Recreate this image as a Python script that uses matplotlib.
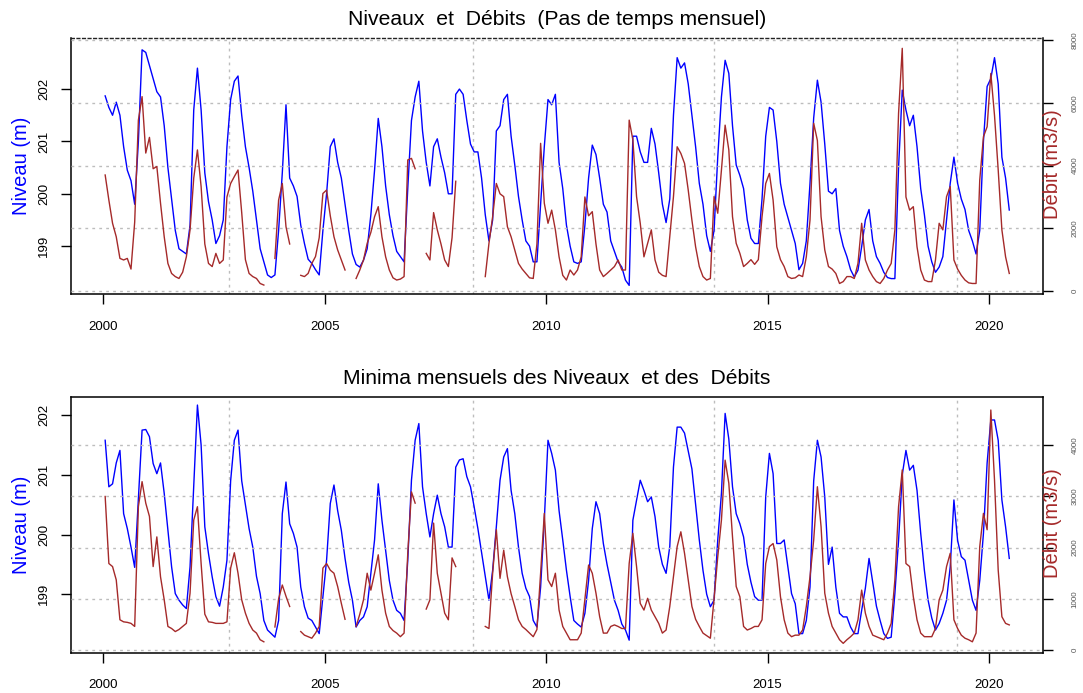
import numpy as np
import matplotlib
matplotlib.use("Agg")
import matplotlib.pyplot as plt

plt.rcParams['font.family'] = ['Liberation Sans', 'DejaVu Sans']

nan = np.nan

# ---- Data: monthly values, Jan 2000 -> Jun 2020 ----
niveau_mensuel = [
    201.87, 201.65, 201.5, 201.75, 201.5, 200.9, 200.45, 200.25, 199.8, 201.0, 202.75, 202.7,
    202.45, 202.2, 201.95, 201.85, 201.3, 200.5, 199.9, 199.3, 198.95, 198.9, 198.85, 199.4,
    201.6, 202.4, 201.6, 200.4, 199.85, 199.5, 199.05, 199.2, 199.5, 200.9, 201.8, 202.15,
    202.25, 201.5, 200.9, 200.5, 200.05, 199.5, 198.95, 198.7, 198.45, 198.4, 198.45, 199.3,
    200.4, 201.7, 200.3, 200.15, 199.95, 199.4, 199.05, 198.75, 198.67, 198.55, 198.45, 199.3,
    200.0, 200.9, 201.05, 200.6, 200.3, 199.8, 199.3, 198.85, 198.65, 198.6, 198.73, 198.95,
    199.6, 200.45, 201.44, 200.9, 200.15, 199.6, 199.2, 198.9, 198.8, 198.7, 200.1, 201.4,
    201.85, 202.15, 201.2, 200.6, 200.15, 200.9, 201.05, 200.7, 200.4, 200.0, 200.0, 201.9,
    202.0, 201.9, 201.4, 200.95, 200.8, 200.8, 200.3, 199.6, 199.1, 199.5, 201.2, 201.3,
    201.8, 201.9, 201.1, 200.55, 199.95, 199.5, 199.1, 199.0, 198.7, 198.7, 199.8, 200.9,
    201.8, 201.7, 201.9, 200.6, 200.1, 199.4, 199.0, 198.7, 198.67, 198.7, 199.4, 200.3,
    200.93, 200.75, 200.3, 199.8, 199.65, 199.1, 198.9, 198.7, 198.6, 198.35, 198.25, 201.1,
    201.1, 200.8, 200.6, 200.6, 201.25, 200.95, 200.4, 199.8, 199.45, 199.9, 201.5, 202.6,
    202.4, 202.5, 202.1, 201.5, 200.9, 200.2, 199.8, 199.2, 198.9, 199.3, 200.7, 201.85,
    202.55, 202.3, 201.3, 200.55, 200.35, 200.1, 199.5, 199.15, 199.05, 199.05, 199.9, 201.1,
    201.65, 201.6, 201.0, 200.2, 199.8, 199.55, 199.3, 199.05, 198.55, 198.67, 199.1, 200.2,
    201.45, 202.17, 201.75, 200.95, 200.05, 200.0, 200.1, 199.3, 199.0, 198.8, 198.55, 198.41,
    198.54, 198.99, 199.5, 199.7, 199.1, 198.8, 198.67, 198.5, 198.4, 198.38, 198.38, 200.5,
    201.98, 201.6, 201.3, 201.5, 200.9, 200.1, 199.6, 199.0, 198.7, 198.5, 198.6, 198.8,
    199.5, 200.2, 200.7, 200.2, 199.9, 199.7, 199.3, 199.1, 198.85, 199.3, 201.0, 202.05,
    202.2, 202.6, 202.1, 200.7, 200.3, 199.69,
]

debit_mensuel = [
    3700, 2900, 2160, 1730, 1040, 990, 1040, 700, 2200, 5450, 6200, 4400,
    4900, 3900, 3970, 2800, 1730, 880, 560, 460, 400, 600, 1090, 1950,
    3600, 4500, 3330, 1500, 880, 780, 1200, 880, 990, 3000, 3430, 3650,
    3860, 2500, 1000, 560, 460, 400, 240, 190, nan, nan, 1040, 2900,
    3430, 2050, 1500, nan, nan, 500, 460, 560, 880, 1100, 1700, 3110,
    3220, 2400, 1730, 1310, 990, 670, nan, nan, 400, 670, 990, 1520,
    1870, 2370, 2690, 1730, 1090, 670, 420, 350, 380, 460, 4180, 4230,
    3900, nan, nan, 1200, 990, 2500, 1950, 1500, 990, 780, 1700, 3500,
    nan, nan, nan, nan, nan, nan, nan, 460, 1520, 2370, 3430, 3100,
    3010, 2050, 1730, 1310, 880, 700, 560, 420, 400, 1500, 4710, 2800,
    2160, 2580, 1950, 1090, 500, 350, 670, 510, 670, 1090, 3000, 2400,
    2530, 1500, 670, 460, 560, 670, 780, 990, 670, 670, 5450, 4820,
    3010, 2160, 1090, 1520, 1950, 990, 600, 500, 460, 1730, 3010, 4600,
    4390, 4070, 3220, 2260, 1410, 780, 460, 350, 400, 3010, 2480, 3860,
    5290, 4500, 2370, 1520, 1200, 780, 880, 1000, 850, 1000, 2370, 3430,
    3750, 2900, 1410, 1000, 780, 460, 400, 420, 510, 460, 1090, 2260,
    5350, 4800, 2370, 1310, 780, 700, 560, 240, 300, 460, 460, 400,
    880, 2160, 990, 670, 460, 300, 240, 400, 670, 880, 1950, 5670,
    7740, 3000, 2580, 2690, 1410, 670, 350, 300, 300, 990, 2160, 1950,
    3010, 3330, 990, 700, 500, 350, 260, 240, 240, 3540, 4920, 5240,
    6940, 5600, 3860, 1950, 1090, 560,
]

niveau_min = [
    201.58, 200.8, 200.85, 201.2, 201.41, 200.35, 200.1, 199.79, 199.45, 200.6, 201.75, 201.76,
    201.64, 201.19, 201.02, 201.2, 200.69, 200.07, 199.46, 199.01, 198.9, 198.82, 198.76, 199.46,
    200.8, 202.17, 201.5, 200.13, 199.68, 199.29, 198.96, 198.8, 199.12, 199.57, 200.9, 201.58,
    201.75, 200.9, 200.5, 200.1, 199.79, 199.3, 199.01, 198.56, 198.4, 198.34, 198.28, 198.56,
    200.35, 200.88, 200.18, 200.02, 199.79, 199.12, 198.79, 198.6, 198.56, 198.45, 198.34, 198.96,
    199.57, 200.52, 200.83, 200.4, 200.07, 199.6, 199.2, 198.9, 198.45, 198.56, 198.62, 198.79,
    199.35, 199.91, 200.85, 200.24, 199.74, 199.23, 198.9, 198.73, 198.68, 198.56, 199.57, 200.91,
    201.58, 201.86, 200.8, 200.35, 199.96, 200.35, 200.66, 200.35, 200.13, 199.79, 199.79, 201.13,
    201.25, 201.27, 200.97, 200.8, 200.46, 200.1, 199.7, 199.3, 198.9, 199.4, 200.13, 200.91,
    201.3, 201.44, 200.74, 200.35, 199.79, 199.35, 199.1, 198.96, 198.56, 198.45, 199.12, 200.24,
    201.58, 201.36, 201.08, 200.4, 199.91, 199.4, 198.96, 198.56, 198.5, 198.45, 198.68, 199.23,
    200.1, 200.55, 200.35, 199.85, 199.5, 199.2, 198.9, 198.73, 198.5, 198.4, 198.23, 200.24,
    200.58, 200.91, 200.74, 200.55, 200.63, 200.3, 199.79, 199.5, 199.35, 199.8, 201.13, 201.8,
    201.8, 201.7, 201.4, 201.1, 200.5, 199.91, 199.4, 199.0, 198.79, 198.9, 199.91, 200.69,
    202.03, 201.6, 200.8, 200.35, 200.18, 199.96, 199.5, 199.2, 198.96, 198.9, 198.9, 200.63,
    201.36, 201.02, 199.85, 199.85, 199.91, 199.46, 199.01, 198.84, 198.34, 198.34, 198.56, 199.12,
    200.9, 201.58, 201.3, 200.63, 199.5, 199.79, 199.12, 198.68, 198.62, 198.62, 198.45, 198.34,
    198.34, 198.73, 199.1, 199.6, 199.2, 198.8, 198.56, 198.34, 198.26, 198.28, 199.01, 199.9,
    201.0, 201.41, 201.08, 201.16, 200.74, 200.02, 199.4, 198.9, 198.6, 198.4, 198.51, 198.68,
    198.9, 199.46, 200.58, 199.9, 199.63, 199.57, 199.23, 198.9, 198.73, 199.23, 200.02, 201.2,
    201.92, 201.92, 201.58, 200.58, 200.13, 199.6,
]

debit_min = [
    3000, 1690, 1630, 1370, 590, 550, 540, 520, 460, 2800, 3290, 2870,
    2610, 1630, 2210, 1430, 980, 460, 420, 360, 400, 460, 520, 1110,
    2540, 2800, 1690, 700, 550, 540, 520, 520, 520, 550, 1600, 1900,
    1500, 980, 720, 520, 390, 330, 200, 160, nan, nan, 450, 1000,
    1270, 1050, 850, nan, nan, 360, 290, 260, 230, 330, 460, 1600,
    1690, 1560, 1500, 1240, 910, 600, nan, nan, 460, 700, 980, 1500,
    1170, 1500, 1860, 1170, 720, 460, 380, 330, 260, 330, 1890, 3090,
    2870, nan, nan, 800, 980, 2480, 1500, 1110, 720, 590, 1800, 1630,
    nan, nan, nan, nan, nan, nan, nan, 460, 420, 1500, 2350, 1400,
    1950, 1430, 1100, 850, 590, 460, 400, 330, 260, 400, 1500, 2670,
    1370, 1240, 1500, 780, 460, 330, 200, 200, 200, 330, 1000, 1660,
    1500, 1110, 650, 330, 330, 460, 490, 460, 420, 420, 1690, 2280,
    1630, 910, 780, 1010, 780, 650, 520, 330, 390, 850, 1430, 2020,
    2310, 1890, 1370, 850, 600, 460, 330, 280, 230, 1000, 1820, 2540,
    3710, 3260, 2210, 1240, 1040, 460, 390, 420, 460, 460, 590, 1690,
    2020, 2080, 1760, 1040, 590, 330, 260, 290, 290, 390, 850, 1430,
    2150, 3190, 2410, 1110, 720, 460, 330, 200, 130, 200, 260, 330,
    590, 1170, 720, 460, 290, 260, 230, 200, 330, 520, 1370, 2800,
    3520, 1690, 1630, 1040, 590, 330, 260, 260, 260, 420, 980, 1170,
    1630, 1890, 590, 420, 290, 230, 200, 160, 330, 2020, 2670, 2350,
    4690, 3320, 1560, 650, 520, 490,
]

annees_ticks = [2000, 2005, 2010, 2015, 2020]
niveau_ticks = [199, 200, 201, 202]
debit_ticks_haut = [0, 2000, 4000, 6000, 8000]
debit_ticks_bas = [0, 1000, 2000, 3000, 4000]
grille_x = [2002.845, 2008.34, 2013.79, 2019.27]

titre_haut = "Niveaux  et  Débits  (Pas de temps mensuel)"
titre_bas = "Minima mensuels des Niveaux  et des  Débits"

# ---- Figure ----
W, H = 1083, 693
fig = plt.figure(figsize=(W / 100, H / 100), dpi=100)

BLUE = '#0000FF'
BROWN = '#A52A2A'
GRID = '#BDBDBD'

x = 2000 + (np.arange(len(niveau_mensuel)) + 0.5) / 12.0


def panel(top, bottom, lvl, q, ylim_l, ylim_r, rticks, title, top_dotted):
    ax = fig.add_axes([71 / W, 1 - bottom / H, 972 / W, (bottom - top) / H])
    axr = ax.twinx()
    ax.set_xlim(1999.27, 2021.22)
    ax.set_ylim(*ylim_l)
    axr.set_ylim(*ylim_r)

    # grid
    for gx in grille_x:
        ax.axvline(gx, color=GRID, lw=1.0, ls=(0, (2, 3)), zorder=0)
    for gy in rticks:
        axr.axhline(gy, color=GRID, lw=1.0, ls=(0, (2, 3)), zorder=0)

    ax.plot(x, lvl, color=BLUE, lw=1.0, zorder=2)
    axr.plot(x, q, color=BROWN, lw=1.0, zorder=2)

    # spines
    for s in ['left', 'bottom']:
        ax.spines[s].set_linewidth(1.1)
    ax.spines['right'].set_visible(False)
    if top_dotted:
        ax.spines['top'].set_linestyle((0, (2, 2)))
        ax.spines['top'].set_linewidth(1.0)
        ax.spines['top'].set_color('#222222')
    else:
        ax.spines['top'].set_linewidth(1.1)
    for s in ['left', 'bottom', 'top']:
        axr.spines[s].set_visible(False)
    axr.spines['right'].set_linewidth(1.1)

    ax.set_xticks(annees_ticks)
    ax.set_xticklabels([str(a) for a in annees_ticks])
    ax.tick_params(axis='x', length=7, width=1.0, pad=12, labelsize=9.5)

    ax.set_yticks(niveau_ticks)
    ax.set_yticklabels([str(v) for v in niveau_ticks])
    ax.tick_params(axis='y', length=7, width=1.0, pad=8, labelsize=9.5)
    for lab in ax.get_yticklabels():
        lab.set_rotation(90)
        lab.set_va('center')

    axr.set_yticks(rticks)
    axr.set_yticklabels([str(v) for v in rticks])
    axr.tick_params(axis='y', length=7.2, width=1.0, pad=13.5, labelsize=5.8,
                    labelcolor='#555555')
    for lab in axr.get_yticklabels():
        lab.set_rotation(90)
        lab.set_va('center')

    yc = (top + bottom) / 2.0
    fig.text(557 / W, 1 - (top - 18.5) / H, title, ha='center', va='center',
             fontsize=15.2)
    fig.text(21.5 / W, 1 - yc / H, 'Niveau (m)', rotation=90, color=BLUE,
             ha='center', va='center', fontsize=14.5)
    fig.text(1053 / W, 1 - (yc - 2) / H, 'Débit (m3/s)', rotation=90, color=BROWN,
             ha='center', va='center', fontsize=14.5)
    return ax, axr


panel(38.3, 294.3, niveau_mensuel, debit_mensuel, (198.08, 202.97), (-105, 8060),
      debit_ticks_haut, titre_haut, True)
panel(396.7, 652.7, niveau_min, debit_min, (198.02, 202.31), (-53, 4950),
      debit_ticks_bas, titre_bas, False)

fig.savefig('out.png', dpi=100)
